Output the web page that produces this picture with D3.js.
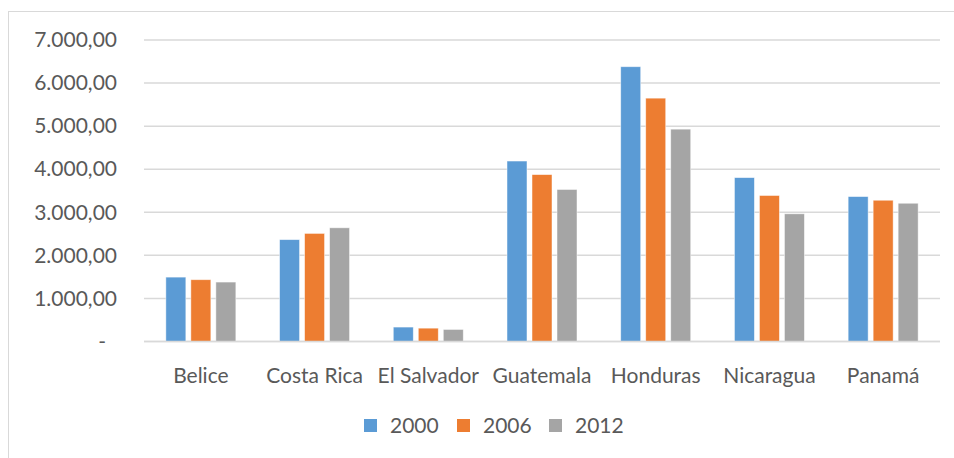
<!DOCTYPE html>
<html>
<head>
<meta charset="utf-8">
<script src="https://cdn.jsdelivr.net/npm/d3@7"></script>
<style>
  html, body { margin: 0; padding: 0; background: #fff; }
  svg { display: block; }
  text { font-family: Lato, "Open Sans", sans-serif; fill: #595959; }
</style>
</head>
<body>
<svg id="chart" width="954" height="458"></svg>
<script>
// Categories and series
const countries = ["Belice", "Costa Rica", "El Salvador", "Guatemala", "Honduras", "Nicaragua", "Panamá"];
const years = ["2000", "2006", "2012"];
const values2000 = [1495, 2365, 335, 4190, 6380, 3805, 3365];
const values2006 = [1435, 2510, 310, 3875, 5650, 3390, 3280];
const values2012 = [1380, 2640, 280, 3530, 4930, 2965, 3210];
const yTicks = [0, 1000, 2000, 3000, 4000, 5000, 6000, 7000];
const colors = ["#5B9BD5", "#ED7D31", "#A5A5A5"];

const seriesValues = [values2000, values2006, values2012];
const rows = countries.map((c, i) => ({
  country: c,
  vals: years.map((y, j) => ({ year: y, value: seriesValues[j][i], color: colors[j] }))
}));

const svg = d3.select("#chart");
const W = 954, H = 458;
const plot = { left: 144, right: 940, top: 40, bottom: 341.5 };

// Chart area border
svg.append("rect")
  .attr("x", 8.5).attr("y", 11.5)
  .attr("width", W + 10).attr("height", H + 10)
  .attr("fill", "none").attr("stroke", "#d9d9d9").attr("stroke-width", 1);

const x0 = d3.scaleBand().domain(countries).range([plot.left, plot.right]).paddingInner(0).paddingOuter(0);
const x1 = d3.scaleBand().domain(years).range([0, x0.bandwidth()]).paddingInner(0.2).paddingOuter(0.874);
const y = d3.scaleLinear().domain([0, 7000]).range([plot.bottom, plot.top]);

const fmt = v => {
  if (v === 0) return "-";
  const s = d3.format(",.2f")(v);
  return s.replace(/,/g, "#").replace(".", ",").replace(/#/g, ".");
};

// Gridlines
svg.append("g")
  .selectAll("line")
  .data(yTicks)
  .join("line")
  .attr("x1", plot.left).attr("x2", plot.right)
  .attr("y1", d => y(d)).attr("y2", d => y(d))
  .attr("stroke", "#d9d9d9").attr("stroke-width", 1.5);

// Y axis labels
const yAxis = svg.append("g")
  .attr("transform", `translate(${plot.left},0)`)
  .call(d3.axisLeft(y).tickValues(yTicks).tickFormat(fmt).tickSize(0).tickPadding(27));
yAxis.select(".domain").remove();
yAxis.selectAll("text")
  .style("font-size", "21px")
  .attr("fill", "#595959")
  .attr("dx", d => d === 0 ? -11 : 0);

// Bars
const groups = svg.append("g")
  .selectAll("g")
  .data(rows)
  .join("g")
  .attr("transform", d => `translate(${x0(d.country)},0)`);

groups.selectAll("rect")
  .data(d => d.vals)
  .join("rect")
  .attr("x", d => x1(d.year))
  .attr("width", x1.bandwidth())
  .attr("y", d => y(d.value))
  .attr("height", d => y(0) - y(d.value))
  .attr("fill", d => d.color)
  .attr("stroke", "#ffffff").attr("stroke-width", 0.8).attr("stroke-opacity", 0.6);

// Category axis
const xAxis = svg.append("g")
  .attr("transform", `translate(0,${plot.bottom})`)
  .call(d3.axisBottom(x0).tickSize(0).tickPadding(0));
xAxis.select(".domain").remove();
xAxis.selectAll("text")
  .attr("dy", null)
  .attr("y", 41)
  .style("font-size", "21px")
  .attr("fill", "#595959");

// Baseline
svg.append("line")
  .attr("x1", plot.left).attr("x2", plot.right)
  .attr("y1", y(0)).attr("y2", y(0))
  .attr("stroke", "#d9d9d9").attr("stroke-width", 1.5);

// Legend
const legendItems = [
  { year: years[0], color: colors[0], x: 364 },
  { year: years[1], color: colors[1], x: 457 },
  { year: years[2], color: colors[2], x: 549 }
];
const legend = svg.append("g").selectAll("g").data(legendItems).join("g")
  .attr("transform", d => `translate(${d.x},419)`);
legend.append("rect").attr("width", 13).attr("height", 13).attr("fill", d => d.color);
legend.append("text").attr("x", 26).attr("y", 14).style("font-size", "21px").text(d => d.year);
</script>
</body>
</html>
